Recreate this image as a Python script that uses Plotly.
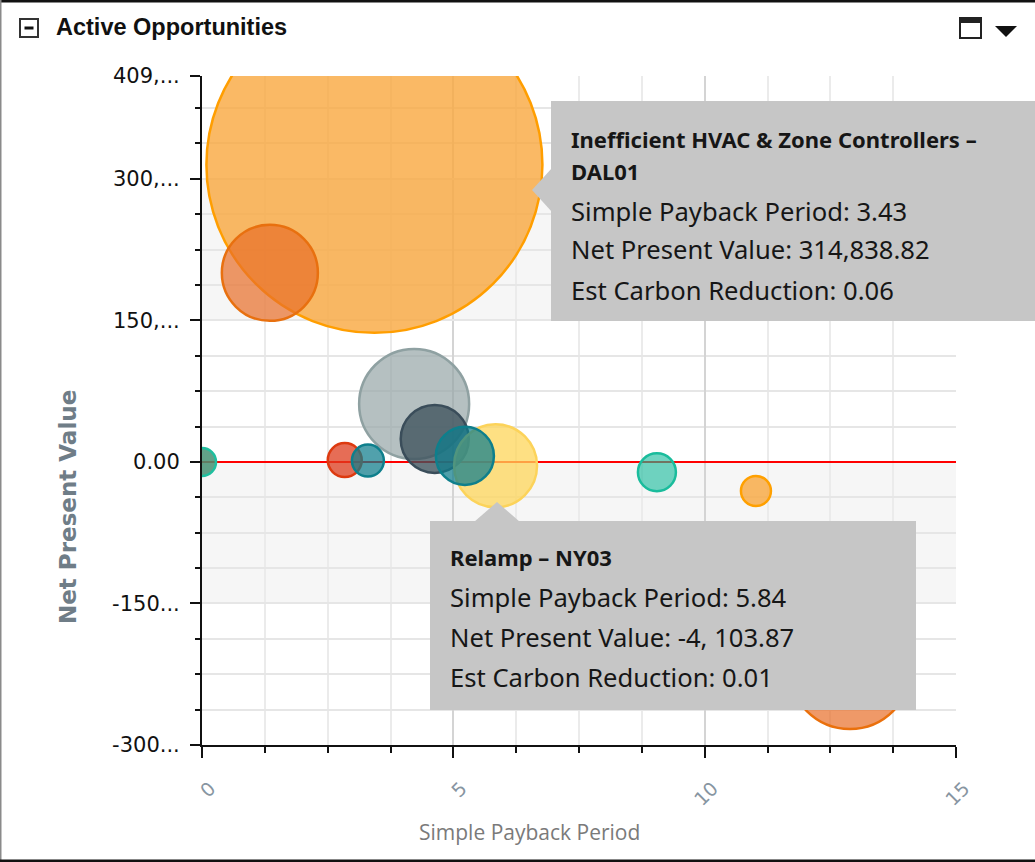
import plotly.graph_objects as go

# ---------------- data ----------------
names = ["Inefficient HVAC & Zone Controllers – DAL01", "Opportunity B", "Opportunity C",
         "Opportunity D", "Relamp – NY03", "Opportunity F", "Opportunity G", "Opportunity H",
         "Opportunity I", "Opportunity J", "Opportunity K", "Opportunity L"]
payback = [3.43, 1.35, 4.22, 4.63, 5.84, 5.23, 2.84, 3.30, 0.0, 9.05, 11.02, 12.89]
npv = [314838.82, 200400, 61500, 24400, -4103.87, 6400, 2000, 1400, 0, -10900, -30800, -218400]
carbon = [0.06, 0.0049, 0.00643, 0.00246, 0.00366, 0.00179, 0.000614, 0.000544,
          0.000417, 0.000767, 0.000478, 0.00791]
fill_colors = ["rgba(249,167,62,0.8)", "rgba(232,110,40,0.7)", "rgba(149,165,166,0.7)",
               "rgba(62,82,92,0.78)", "rgba(253,213,90,0.75)", "rgba(14,125,140,0.72)",
               "rgba(222,60,30,0.75)", "rgba(14,125,140,0.72)", "rgba(70,145,115,0.85)",
               "rgba(26,188,156,0.62)", "rgba(249,167,62,0.8)", "rgba(232,110,40,0.7)"]
line_colors = ["#ff9e00", "#e8700f", "#8fa1a2", "#3a4d5a", "#fcd35a", "#0e7f8c",
               "#dd3a10", "#0e7f8c", "#1fbf9f", "#1abc9c", "#ffa000", "#ea700c"]

y_tickvals = [-300000, -150000, 0, 150000, 300000, 409000]
y_ticktext = ["-300...", "-150...", "0.00", "150,...", "300,...", "409,..."]
x_tickvals = [0, 5, 10, 15]
x_ticktext = ["0", "5", "10", "15"]

tip1 = ["Inefficient HVAC & Zone Controllers –", "DAL01",
        "Simple Payback Period: 3.43", "Net Present Value: 314,838.82", "Est Carbon Reduction: 0.06"]
tip2 = ["Relamp – NY03", "Simple Payback Period: 5.84",
        "Net Present Value: -4, 103.87", "Est Carbon Reduction: 0.01"]

# ---------------- geometry helpers (pixel -> paper) ----------------
W, H = 1035, 862
L, R, T, B = 202, 956, 76, 745


def px(x):
    return (x - L) / (R - L)


def py(y):
    return (B - y) / (B - T)


max_diam = 336
fig = go.Figure()
fig.add_trace(go.Scatter(
    x=payback, y=npv, mode="markers", text=names,
    marker=dict(size=carbon, sizemode="area", sizeref=2.0 * max(carbon) / (max_diam ** 2),
                opacity=1, color=fill_colors, line=dict(color=line_colors, width=2.5)),
    hovertemplate="%{text}<br>Simple Payback Period: %{x}<br>Net Present Value: %{y}<extra></extra>",
    showlegend=False, cliponaxis=True,
))

shapes = []
# alternating bands
for y0, y1 in [(150000, 300000), (-150000, 0)]:
    shapes.append(dict(type="rect", xref="x", yref="y", x0=0, x1=15, y0=y0, y1=y1,
                       fillcolor="#f6f6f6", line=dict(width=0), layer="below"))
# red zero line
shapes.append(dict(type="line", xref="x", yref="y", x0=0, x1=15, y0=0, y1=0,
                   line=dict(color="#ff0000", width=2), layer="between"))

# frame
shapes.append(dict(type="rect", xref="paper", yref="paper", x0=px(0), x1=px(1036), y0=py(0), y1=py(2.5),
                   fillcolor="#111", line=dict(width=0)))
shapes.append(dict(type="rect", xref="paper", yref="paper", x0=px(0), x1=px(1.5), y0=py(0), y1=py(862),
                   fillcolor="#8a8a8a", line=dict(width=0)))
shapes.append(dict(type="rect", xref="paper", yref="paper", x0=px(0), x1=px(1036), y0=py(859.5), y1=py(862),
                   fillcolor="#111", line=dict(width=0)))
# header icons
shapes.append(dict(type="rect", xref="paper", yref="paper", x0=px(20), x1=px(38), y0=py(19), y1=py(37),
                   fillcolor="white", line=dict(color="#333", width=2)))
shapes.append(dict(type="line", xref="paper", yref="paper", x0=px(24.5), x1=px(33.5), y0=py(28), y1=py(28),
                   line=dict(color="#111", width=3)))
shapes.append(dict(type="rect", xref="paper", yref="paper", x0=px(960), x1=px(981), y0=py(18), y1=py(38),
                   fillcolor="white", line=dict(color="#222", width=2)))
shapes.append(dict(type="rect", xref="paper", yref="paper", x0=px(960), x1=px(981), y0=py(18), y1=py(23),
                   fillcolor="#222", line=dict(width=0)))
shapes.append(dict(type="path", xref="paper", yref="paper",
                   path=f"M {px(995)} {py(26)} L {px(1017)} {py(26)} L {px(1006)} {py(37)} Z",
                   fillcolor="#111", line=dict(width=0)))

# tooltip boxes
TIP = "#c6c6c6"
shapes.append(dict(type="rect", xref="paper", yref="paper", x0=px(551), x1=px(1040), y0=py(101), y1=py(321),
                   fillcolor=TIP, line=dict(width=0), layer="above"))
shapes.append(dict(type="path", xref="paper", yref="paper",
                   path=f"M {px(552)} {py(168)} L {px(532)} {py(190)} L {px(552)} {py(212)} Z",
                   fillcolor=TIP, line=dict(width=0), layer="above"))
shapes.append(dict(type="rect", xref="paper", yref="paper", x0=px(430), x1=px(916), y0=py(521), y1=py(710),
                   fillcolor=TIP, line=dict(width=0), layer="above"))
shapes.append(dict(type="path", xref="paper", yref="paper",
                   path=f"M {px(474)} {py(522)} L {px(497)} {py(502)} L {px(520)} {py(522)} Z",
                   fillcolor=TIP, line=dict(width=0), layer="above"))

annotations = []
TIPFONT = "Noto Sans, Open Sans, sans-serif"


def tip_line(text, x, y, bold):
    annotations.append(dict(xref="paper", yref="paper", x=px(x), y=py(y), text=(f"<b>{text}</b>" if bold else text),
                            showarrow=False, xanchor="left", yanchor="middle",
                            font=dict(family=TIPFONT, size=(22 if bold else 25.6), color="#161616")))


for t, yy, b in zip(tip1, [139, 171, 211, 250, 290], [True, True, False, False, False]):
    tip_line(t, 569, yy, b)
for t, yy, b in zip(tip2, [557, 597, 637, 677], [True, False, False, False]):
    tip_line(t, 448, yy, b)

# header title
annotations.append(dict(xref="paper", yref="paper", x=px(54), y=py(27), text="<b>Active Opportunities</b>",
                        showarrow=False, xanchor="left", yanchor="middle",
                        font=dict(family="Liberation Sans, Arial, sans-serif", size=23.5, color="#111")))
# axis titles
annotations.append(dict(xref="paper", yref="paper", x=px(68), y=py(507), text="<b>Net Present Value</b>",
                        showarrow=False, textangle=-90, xanchor="center", yanchor="middle",
                        font=dict(family="DejaVu Sans, Verdana, sans-serif", size=23, color="#6f7d87")))
annotations.append(dict(xref="paper", yref="paper", x=px(529), y=py(832), text="Simple Payback Period",
                        showarrow=False, xanchor="center", yanchor="middle",
                        font=dict(family="Open Sans, sans-serif", size=21, color="#7a7a7a")))

fig.update_layout(
    width=W, height=H, margin=dict(l=L, r=W - R, t=T, b=H - B, pad=0),
    paper_bgcolor="white", plot_bgcolor="white",
    shapes=shapes, annotations=annotations,
    xaxis=dict(range=[0, 15], tickmode="array", tickvals=x_tickvals, ticktext=x_ticktext,
               tickangle=-45, ticks="outside", ticklen=11, tickwidth=2, tickcolor="#111",
               showline=True, linecolor="#111", linewidth=2, zeroline=False,
               showgrid=True, gridcolor="#d4d4d4", gridwidth=1.5,
               tickfont=dict(family="DejaVu Sans, Verdana, sans-serif", size=19, color="#8795a1"),
               ticklabelstandoff=12, ticklabelshift=8,
               minor=dict(dtick=1.25, tick0=0, ticks="outside", ticklen=6, tickwidth=2, tickcolor="#111",
                          showgrid=True, gridcolor="#ebebeb", gridwidth=1.5)),
    yaxis=dict(range=[-300000, 409000], tickmode="array", tickvals=y_tickvals, ticktext=y_ticktext,
               ticks="outside", ticklen=10, tickwidth=2, tickcolor="#111",
               showline=True, linecolor="#111", linewidth=2, zeroline=False,
               showgrid=True, gridcolor="#e6e6e6", gridwidth=1.5,
               tickfont=dict(family="DejaVu Sans, Verdana, sans-serif", size=21, color="#111"),
               ticklabelstandoff=6,
               minor=dict(dtick=37500, tick0=0, ticks="outside", ticklen=5, tickwidth=2, tickcolor="#111",
                          showgrid=True, gridcolor="#e6e6e6", gridwidth=1.5)),
    hovermode="closest",
)

fig.write_html("out.html", config={"displayModeBar": False},
               post_script="document.body.style.margin='0';document.body.style.overflow='hidden';")
